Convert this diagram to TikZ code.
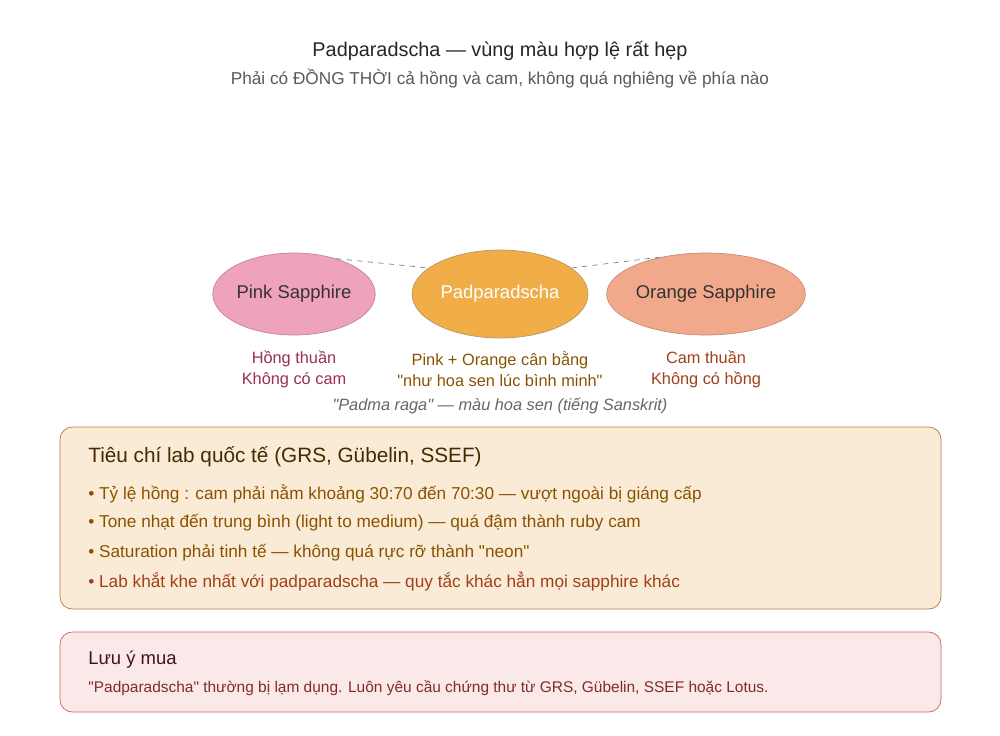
\documentclass[tikz,border=0pt]{standalone}
\usepackage{fontspec}
\setmainfont{Liberation Sans}
\usetikzlibrary{shapes.geometric,positioning}
\definecolor{pinkfill}{HTML}{EFA3BA}
\definecolor{padfill}{HTML}{F0AD48}
\definecolor{orgfill}{HTML}{F2A98B}
\definecolor{pinktxt}{HTML}{9A2E55}
\definecolor{padtxt}{HTML}{8A5200}
\definecolor{orgtxt}{HTML}{A0401A}
\definecolor{critfill}{HTML}{FAEBD7}
\definecolor{critline}{HTML}{B87A3A}
\definecolor{notefill}{HTML}{FBE9E9}
\definecolor{noteline}{HTML}{D06060}
\newcommand{\qt}{\textquotedbl}
\tikzset{
  gem/.style={draw, ellipse, inner sep=0pt, minimum width=#1, font=\fontsize{10.5}{12}\selectfont},
  sub/.style={font=\fontsize{9.3}{12}\selectfont, align=center},
  bullet/.style={anchor=west, inner sep=0pt, font=\fontsize{9.8}{12}\selectfont}
}
\begin{document}
\begin{tikzpicture}[x=0.02cm, y=-0.02cm]
\useasboundingbox (0,0) rectangle (1000,735);
% Title
\node[font=\fontsize{11.3}{13}\selectfont, text=black!85] (title) at (500,51) {Padparadscha — vùng màu hợp lệ rất hẹp};
\node[font=\fontsize{9.8}{12}\selectfont, text=black!65] (subtitle) at (500,79) {Phải có ĐỒNG THỜI cả hồng và cam, không quá nghiêng về phía nào};

% Gems
\node[gem=3.24cm, minimum height=1.64cm, fill=pinkfill, draw=pinktxt!60, text=black!80] (pink) at (294,294) {Pink Sapphire};
\node[gem=3.52cm, minimum height=1.76cm, fill=padfill, draw=padtxt!60, text=white] (pad) at (500,294) {Padparadscha};
\node[gem=3.24cm, minimum height=1.64cm, fill=orgfill, draw=orgtxt!60, text=black!80] (orange) at (706,294) {Orange Sapphire};
\draw[dashed, gray] (pink.40) -- (pad.160);
\draw[dashed, gray] (pad.20) -- (orange.140);

\node[sub, text=pinktxt] (pinksub) at (294,369) {Hồng thuần\\Không có cam};
\node[sub, text=padtxt] (padsub) at (500,369) {Pink + Orange cân bằng\\\qt như hoa sen lúc bình minh\qt};
\node[sub, text=orgtxt] (orgsub) at (706,369) {Cam thuần\\Không có hồng};
\node[font=\fontsize{9.3}{11}\selectfont\itshape, text=black!60] (padma) at (500,406) {\qt Padma raga\qt{} — màu hoa sen (tiếng Sanskrit)};

% Criteria box
\draw[critline, fill=critfill, rounded corners=7pt] (60,427) rectangle (941,609);
\node[anchor=west, inner sep=0pt, font=\fontsize{11.8}{13}\selectfont, text=padtxt!50!black] (crit) at (88,457) {Tiêu chí lab quốc tế (GRS, Gübelin, SSEF)};
\node[bullet, text=padtxt] (b1) at (88,494) {• Tỷ lệ hồng : cam phải nằm khoảng 30:70 đến 70:30 — vượt ngoài bị giáng cấp};
\node[bullet, text=padtxt] (b2) at (88,523) {• Tone nhạt đến trung bình (light to medium) — quá đậm thành ruby cam};
\node[bullet, text=padtxt] (b3) at (88,553) {• Saturation phải tinh tế — không quá rực rỡ thành \qt neon\qt};
\node[bullet, text=orgtxt] (b4) at (88,582) {• Lab khắt khe nhất với padparadscha — quy tắc khác hẳn mọi sapphire khác};

% Note box
\draw[noteline, fill=notefill, rounded corners=7pt] (60,632) rectangle (941,712);
\node[anchor=west, inner sep=0pt, font=\fontsize{10.5}{12}\selectfont, text=pinktxt!40!black] (note) at (88,660) {Lưu ý mua};
\node[anchor=west, inner sep=0pt, font=\fontsize{8.8}{10}\selectfont, text=orgtxt!60!pinktxt!80!black] (notetxt) at (88,688) {\qt Padparadscha\qt{} thường bị lạm dụng. Luôn yêu cầu chứng thư từ GRS, Gübelin, SSEF hoặc Lotus.};
\end{tikzpicture}
\end{document}
